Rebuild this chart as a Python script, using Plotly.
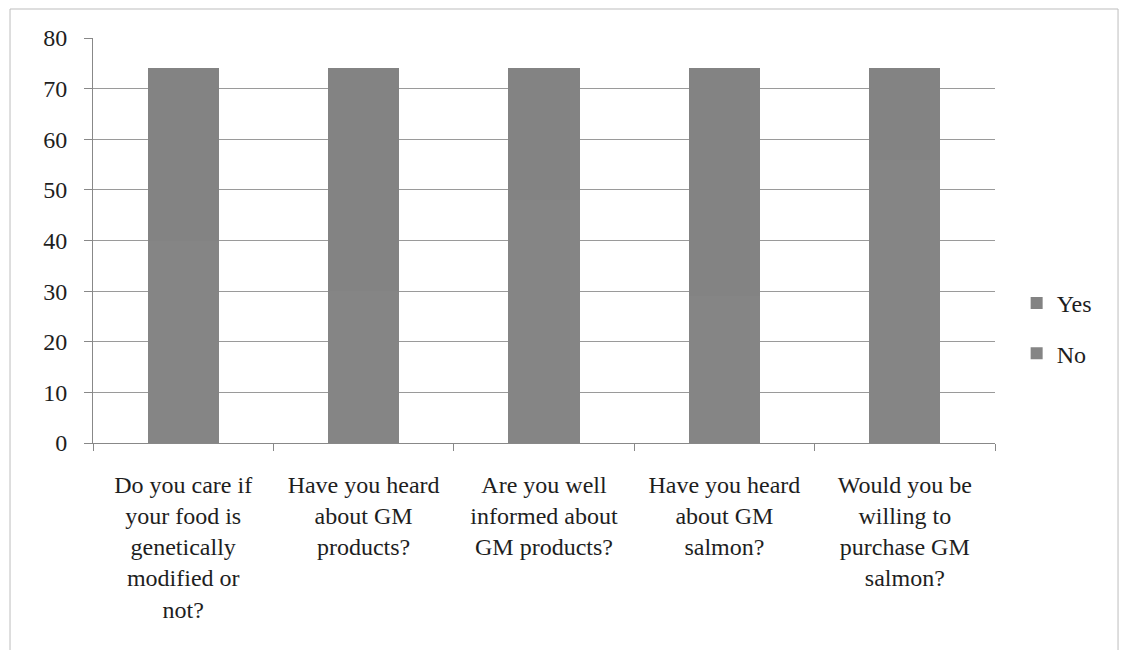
import plotly.graph_objects as go

categories = [
    "Do you care if your food is genetically modified or not?",
    "Have you heard about GM products?",
    "Are you well informed about GM products?",
    "Have you heard about GM salmon?",
    "Would you be willing to purchase GM salmon?",
]
tick_labels = [
    "Do you care if<br>your food is<br>genetically<br>modified or<br>not?",
    "Have you heard<br>about GM<br>products?",
    "Are you well<br>informed about<br>GM products?",
    "Have you heard<br>about GM<br>salmon?",
    "Would you be<br>willing to<br>purchase GM<br>salmon?",
]
no_values = [40, 30, 48, 29, 56]
yes_values = [34, 44, 26, 45, 18]
y_ticks = [0, 10, 20, 30, 40, 50, 60, 70, 80]

FONT = "Liberation Serif"
TXT = "#1e1e1e"

fig = go.Figure()
fig.add_trace(go.Bar(
    x=categories, y=no_values, name="No", legendgroup="no", legendrank=2,
    marker=dict(color="#858585", line=dict(width=0)),
))
fig.add_trace(go.Bar(
    x=categories, y=yes_values, name="Yes", legendgroup="yes", legendrank=1,
    marker=dict(color="#838383", line=dict(width=0)),
))

fig.update_layout(
    width=1123, height=650,
    margin=dict(l=93, r=128, t=38, b=207),
    barmode="stack",
    bargap=0.606,
    plot_bgcolor="white",
    paper_bgcolor="white",
    font=dict(family=FONT, size=24, color=TXT),
    showlegend=True,
    legend=dict(
        x=1.024, xanchor="left", y=0.283, yanchor="middle",
        traceorder="grouped", tracegroupgap=16,
        font=dict(family=FONT, size=24, color=TXT),
        itemwidth=30,
    ),
    xaxis=dict(
        tickmode="array", tickvals=categories, ticktext=tick_labels,
        tickson="boundaries", ticks="outside", ticklen=7, tickcolor="#888888",
        showline=True, linecolor="#888888", linewidth=1,
        showgrid=False,
        tickfont=dict(family=FONT, size=24, color=TXT),
        tickangle=0,
        ticklabelstandoff=20,
    ),
    yaxis=dict(
        range=[0, 80], tickmode="array", tickvals=y_ticks,
        ticks="outside", ticklen=8, tickcolor="#888888",
        showline=True, linecolor="#888888", linewidth=1,
        showgrid=True, gridcolor="#9a9a9a", gridwidth=1,
        zeroline=False,
        tickfont=dict(family=FONT, size=24, color=TXT),
        ticklabelstandoff=12,
    ),
    shapes=[dict(
        type="rect", xref="paper", yref="paper",
        x0=-0.092, x1=1.1364, y0=-0.6, y1=1.0716,
        line=dict(color="#bdbdbd", width=1), fillcolor="rgba(0,0,0,0)",
        layer="below",
    )],
)

fig.write_html("out.html")
